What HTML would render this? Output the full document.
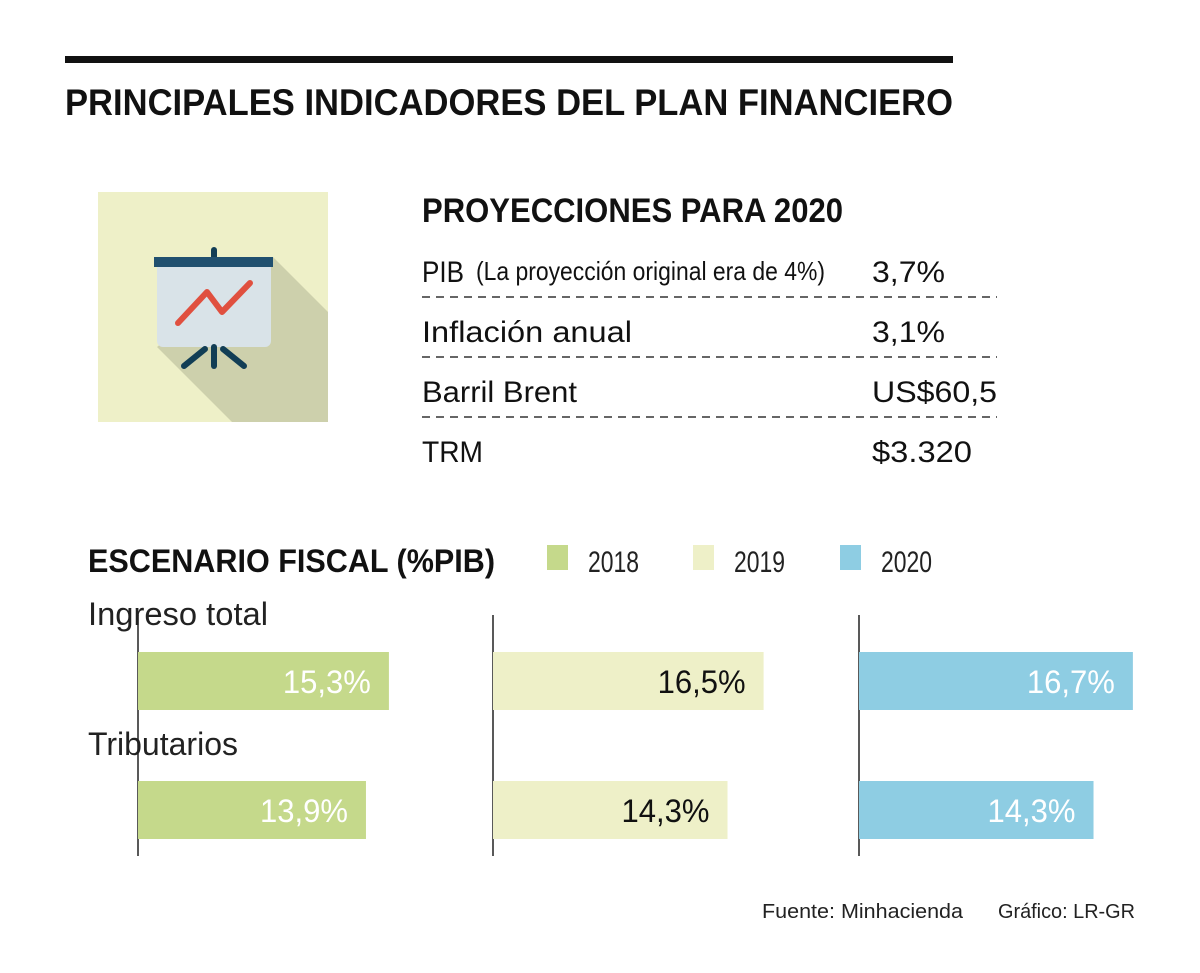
<!DOCTYPE html>
<html><head><meta charset="utf-8"><style>body{margin:0;background:#fff}svg{display:block}text{font-family:"Liberation Sans",sans-serif}</style></head>
<body>
<svg id="chart" width="1200" height="973" viewBox="0 0 1200 973">
<rect x="65" y="56" width="888" height="7" fill="#111"/>
<text x="65" y="115" font-size="37" font-weight="bold" fill="#111" textLength="888" lengthAdjust="spacingAndGlyphs">PRINCIPALES INDICADORES DEL PLAN FINANCIERO</text>
<g>
<rect x="98" y="192" width="230" height="230" fill="#eef0c8"/>
<polygon points="273,257 328,312 328,422 232,422 157,347" fill="#cdd0ac"/>
<rect x="211" y="247" width="6" height="20" rx="3" fill="#123e55"/>
<rect x="157" y="262" width="114" height="85" rx="6" fill="#d9e3e8"/>
<rect x="154" y="257" width="119" height="10" fill="#20506f"/>
<polyline points="178,323 207,292 222,312 250,283" fill="none" stroke="#e0503f" stroke-width="6" stroke-linecap="round" stroke-linejoin="round"/>
<g stroke="#123e55" stroke-width="6" stroke-linecap="round"><line x1="214" y1="347" x2="214" y2="366"/><line x1="205" y1="349" x2="184" y2="366"/><line x1="223" y1="349" x2="244" y2="366"/></g>
</g>
<text x="422" y="222" font-size="34" font-weight="bold" fill="#111" textLength="421" lengthAdjust="spacingAndGlyphs">PROYECCIONES PARA 2020</text>
<g font-size="30" fill="#111">
<text x="422" y="282" textLength="42" lengthAdjust="spacingAndGlyphs">PIB</text>
<text x="476" y="280" font-size="26" textLength="349" lengthAdjust="spacingAndGlyphs">(La proyección original era de 4%)</text>
<text x="872" y="282" textLength="73" lengthAdjust="spacingAndGlyphs">3,7%</text>
<text x="422" y="342" textLength="210" lengthAdjust="spacingAndGlyphs">Inflación anual</text>
<text x="872" y="342" textLength="73" lengthAdjust="spacingAndGlyphs">3,1%</text>
<text x="422" y="402" textLength="155" lengthAdjust="spacingAndGlyphs">Barril Brent</text>
<text x="872" y="402" textLength="125" lengthAdjust="spacingAndGlyphs">US$60,5</text>
<text x="422" y="462" textLength="61" lengthAdjust="spacingAndGlyphs">TRM</text>
<text x="872" y="462" textLength="100" lengthAdjust="spacingAndGlyphs">$3.320</text>
<g stroke="#333" stroke-width="1.5" stroke-dasharray="8,6"><line x1="422" y1="297" x2="997" y2="297"/><line x1="422" y1="357" x2="997" y2="357"/><line x1="422" y1="417" x2="997" y2="417"/></g>
</g>
<text x="88" y="572" font-size="32" font-weight="bold" fill="#111" textLength="407" lengthAdjust="spacingAndGlyphs">ESCENARIO FISCAL (%PIB)</text>
<g id="legend"></g>
<text x="88" y="625" font-size="32" fill="#222" textLength="180" lengthAdjust="spacingAndGlyphs">Ingreso total</text>
<text x="88" y="755" font-size="32" fill="#222" textLength="150" lengthAdjust="spacingAndGlyphs">Tributarios</text>
<g id="bars"></g>
<text x="762" y="918" font-size="20" fill="#222" textLength="201" lengthAdjust="spacingAndGlyphs">Fuente: Minhacienda</text>
<text x="998" y="918" font-size="20" fill="#222" textLength="137" lengthAdjust="spacingAndGlyphs">Gráfico: LR-GR</text>
</svg>
<script>
const years = ["2018","2019","2020"];
const categories = ["Ingreso total","Tributarios"];
const ingreso = [15.3,16.5,16.7];
const tributarios = [13.9,14.3,14.3];
const valueLabels = [["15,3%","16,5%","16,7%"],["13,9%","14,3%","14,3%"]];
const colors = ["#c5d98b","#eef0c8","#8ecde3"];
const textColors = ["#fff","#111","#fff"];
const NS="http://www.w3.org/2000/svg";
const panelX=[138,493,859], scale=16.4, rowY=[652,781], barH=58;
function x(i,v){return panelX[i]+v*scale;}
function mk(t,a,p){const e=document.createElementNS(NS,t);for(const k in a)e.setAttribute(k,a[k]);p.appendChild(e);return e;}
const lg=document.getElementById('legend'), bg=document.getElementById('bars');
const legX=[547,693,840];
years.forEach((y,i)=>{
  const r=mk('rect',{x:legX[i],y:545,width:21,height:25,fill:colors[i]},lg);
  
  
  const t=mk('text',{x:legX[i]+41,y:572,'font-size':30,fill:'#222',textLength:51,lengthAdjust:'spacingAndGlyphs'},lg);
  t.textContent=y;
  
  
  const ax=mk('line',{x1:panelX[i],y1:615,x2:panelX[i],y2:856,stroke:'#222','stroke-width':1.5},bg);
  
  
});
[ingreso,tributarios].forEach((series,c)=>{
  series.forEach((v,i)=>{
    const b=mk('rect',{x:panelX[i],y:rowY[c],width:x(i,v)-panelX[i],height:barH,fill:colors[i]},bg);
    
    
    const t=mk('text',{x:x(i,v)-18,y:rowY[c]+41,'font-size':32,fill:textColors[i],'text-anchor':'end',textLength:88,lengthAdjust:'spacingAndGlyphs'},bg);
    t.textContent=valueLabels[c][i];
    
    
  });
});
</script>
</body></html>
